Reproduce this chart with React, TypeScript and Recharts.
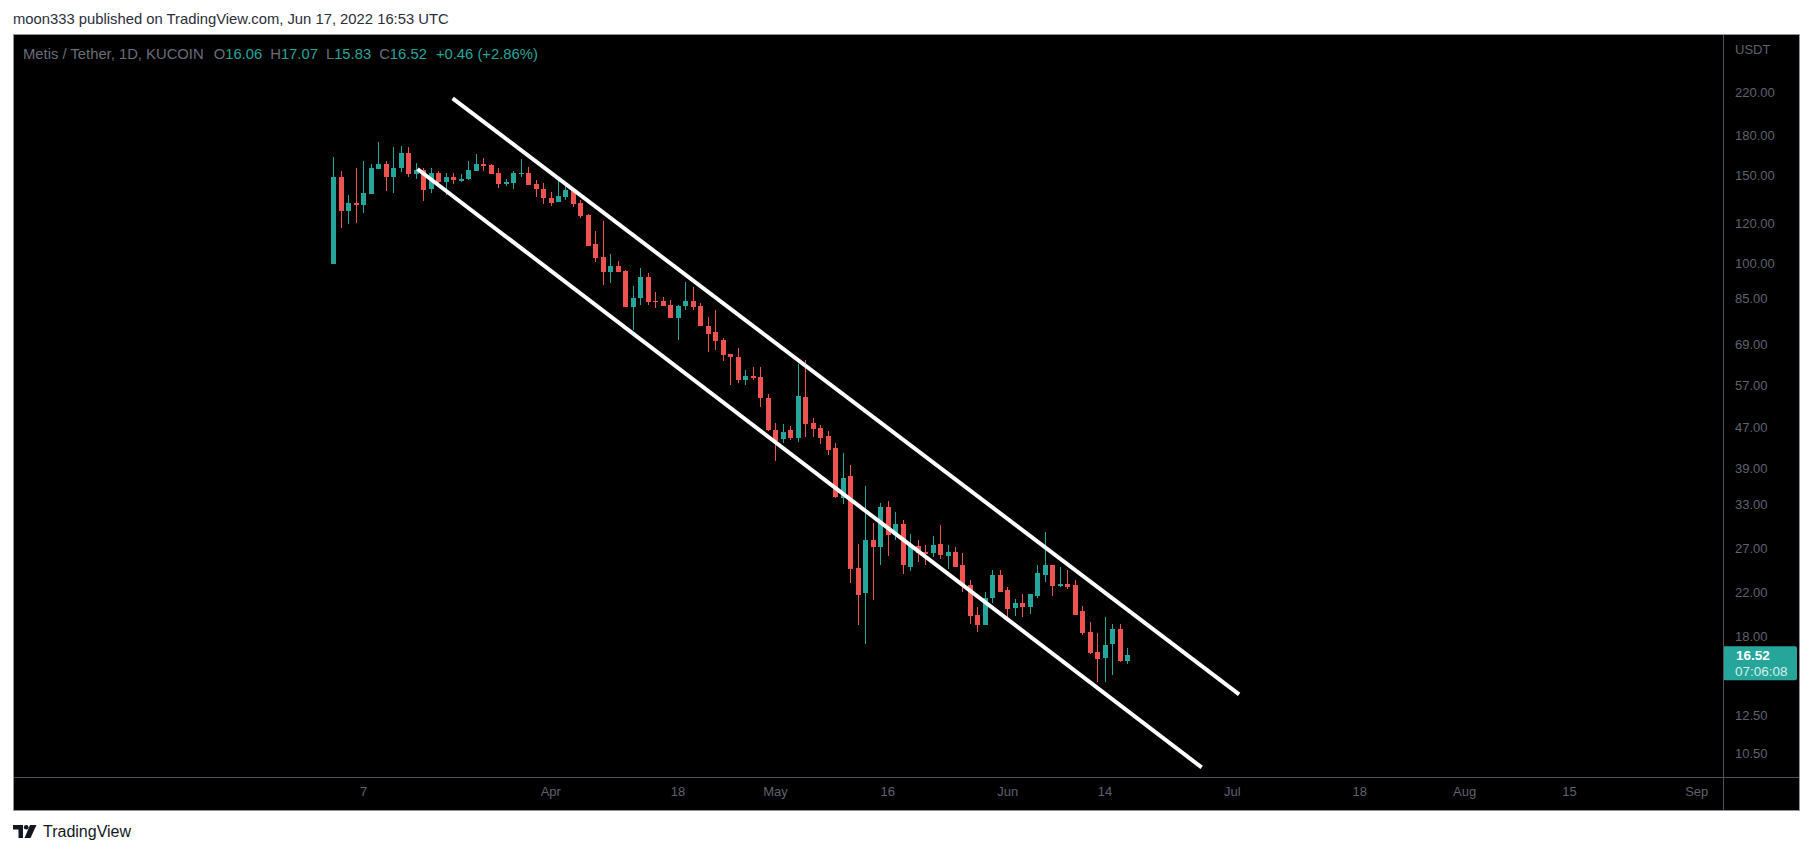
import {
  Bar,
  ComposedChart,
  ReferenceLine,
  XAxis,
  YAxis,
} from "recharts";

const UP = "#26a69a";
const DOWN = "#ef5350";
const AXIS_TEXT = "#5f626c";
const FONT = "'Liberation Sans', Arial, sans-serif";

/** Day offset (from Mar 7) of the first candle. */
const FIRST_DAY = -4;

const OPENS = [
  99.8, 149, 127.3, 132, 131, 137.6, 154.2, 158, 148.6, 155, 166.2, 150.7, 153.5, 140.6, 151.5, 145.4,
  149, 146, 147.2, 153, 158, 157.3, 151.5, 144.1, 144.7, 150.7, 151.5, 144.1, 140.6, 134.9, 132.7, 135.6,
  139.5, 132, 125, 109.4, 103.1, 96.1, 98.9, 96.5, 81.9, 85.3, 93.8, 84.2, 84.2, 82.7, 77.7, 82.3,
  84.2, 82.3, 75.2, 73.0, 70.4, 65.9, 65, 58.4, 59.7, 59.4, 54.0, 46.5, 44.6, 46.5, 44.8, 54.2,
  48.0, 46.9, 45.2, 42.8, 34.1, 37.6, 24.7, 22.0, 28.0, 27.2, 32.6, 28.7, 30.2, 24.8, 27.3, 26.5,
  26.4, 27.5, 26.1, 26.5, 25.0, 22.8, 19.9, 19.0, 21.5, 23.9, 22.3, 20.5, 21.0, 20.6, 21.7, 23.9,
  25.0, 22.7, 22.9, 22.8, 20.2, 18.4, 16.8, 16.3, 17.4, 18.6, 16.06,
];
const HIGHS = [
  163.5, 153, 137, 155.4, 160, 158, 174.8, 160, 170.8, 171.6, 170.8, 159, 155.4, 155.4, 153, 151.5,
  151.5, 150.7, 160, 165.4, 162.4, 158, 155.4, 147.2, 153, 161.7, 156, 146.6, 144.7, 138.9, 147.2, 144.7,
  140, 133.9, 125.3, 116.1, 121.6, 104.5, 101.2, 96.9, 90.1, 97.8, 95.7, 87.7, 85.7, 84.6, 82.7, 91.8,
  89.9, 83.4, 78.2, 80.7, 71.0, 65.9, 67.9, 61.3, 62.1, 62.1, 54.8, 48.0, 47.8, 47.4, 63.0, 64.3,
  49.1, 47.6, 46.3, 43.8, 41.8, 39.6, 27.6, 35.9, 30.3, 33.2, 33.6, 31.9, 30.8, 28.8, 28.1, 27.4,
  28.6, 30.0, 27.4, 27.2, 26.4, 23.3, 20.6, 22.1, 24.4, 24.4, 22.6, 21.4, 21.9, 21.9, 25.0, 29.1,
  25.0, 24.8, 24.4, 23.3, 20.7, 19.2, 18.3, 19.7, 19.1, 19.1, 17.07,
];
const LOWS = [
  99.8, 117.8, 120, 120.7, 126, 137.6, 154.2, 139.5, 138.2, 152.3, 148.6, 147.2, 133.3, 138.2, 143.5, 137,
  144, 145.4, 146.6, 153, 153, 150.7, 141.8, 142.9, 140.6, 149, 143.5, 135.6, 131.5, 130.2, 132.7, 133.9,
  129.6, 123.3, 108.2, 100.7, 90.5, 91.4, 96.1, 81.9, 73.7, 82.7, 82.7, 81.5, 82.3, 77.7, 70.4, 80.7,
  80.7, 74.9, 66.5, 67.1, 63.9, 57.2, 57.7, 57.2, 58.6, 51.8, 46.3, 40.3, 43.8, 44.4, 44.0, 45.0,
  45.0, 43.6, 41.4, 34.1, 33.1, 23.0, 19.0, 17.4, 21.3, 25.0, 26.1, 28.1, 24.0, 24.3, 25.3, 25.0,
  26.0, 25.7, 24.6, 24.8, 22.1, 19.1, 18.4, 19.0, 21.0, 22.1, 19.6, 19.8, 19.7, 20.0, 21.5, 23.1,
  21.7, 22.6, 22.4, 19.9, 18.1, 16.6, 14.6, 14.6, 15.1, 16.0, 15.83,
];
const CLOSES = [
  149.1, 127.3, 132, 131, 138.2, 155, 158, 148.6, 155.4, 166.2, 150.7, 153.5, 140, 151.5, 145.4, 148.6,
  146.6, 147.2, 153.5, 158, 156.8, 150.7, 144.1, 145.4, 151.5, 151.5, 143.5, 140.6, 134.9, 132, 136.1, 140,
  131.5, 124.4, 108.4, 102.6, 96.1, 98.9, 96.1, 81.9, 85.3, 93.8, 83.8, 83.8, 82.3, 77.7, 82.3, 84.2,
  81.9, 75.2, 72.4, 70.0, 65.6, 65.0, 58.4, 59.7, 59.2, 53.8, 46.5, 44.2, 46.1, 44.8, 54.4, 47.8,
  46.7, 44.8, 42.4, 34.2, 37.3, 24.5, 21.8, 28.0, 27.2, 32.6, 28.7, 30.2, 25.0, 27.3, 26.4, 26.3,
  27.4, 26.2, 26.5, 24.8, 22.7, 19.8, 19.0, 21.5, 23.9, 22.1, 20.4, 21.0, 20.6, 21.9, 24.1, 25.0,
  22.7, 22.9, 22.6, 19.9, 18.3, 16.7, 16.2, 17.3, 18.6, 16.06, 16.52,
];

const LAST_PRICE = 16.52;

// channel drawn on the chart: [day, price] end points
const UPPER_CHANNEL = [
  { x: 11.9, y: 213.7 },
  { x: 116.9, y: 13.8 },
];
const LOWER_CHANNEL = [
  { x: 7.2, y: 154.4 },
  { x: 111.9, y: 9.86 },
];

const PRICE_TICKS = [10.5, 12.5, 18, 22, 27, 33, 39, 47, 57, 69, 85, 100, 120, 150, 180, 220];
const DATE_TICKS = [0, 25, 42, 55, 70, 86, 99, 116, 133, 147, 161, 178];
const DATE_LABELS = ["7", "Apr", "18", "May", "16", "Jun", "14", "Jul", "18", "Aug", "15", "Sep"];

const candles = OPENS.map((open, i) => ({
  day: FIRST_DAY + i,
  open,
  high: HIGHS[i],
  low: LOWS[i],
  close: CLOSES[i],
  range: [LOWS[i], HIGHS[i]],
}));

function Candle(props: any) {
  const { x, y, width, height, payload } = props;
  if (x == null || y == null || !payload) return null;
  const top = Math.min(y, y + height);
  const bot = Math.max(y, y + height);
  const lh = Math.log(payload.high);
  const ll = Math.log(payload.low);
  const span = lh - ll || 1;
  // y axis is log, so interpolate open/close in log space between high and low
  const at = (p: number) => top + ((lh - Math.log(p)) / span) * (bot - top);
  const color = payload.close >= payload.open ? UP : DOWN;
  const cx = Math.round(x + width / 2);
  const yo = at(payload.open);
  const yc = at(payload.close);
  return (
    <g shapeRendering="crispEdges">
      <rect x={cx} y={top} width={1} height={Math.max(1, bot - top)} fill={color} />
      <rect
        x={cx - 2}
        y={Math.min(yo, yc)}
        width={5}
        height={Math.max(1, Math.abs(yc - yo))}
        fill={color}
      />
    </g>
  );
}

function PriceTag(props: any) {
  const vb = props.viewBox || {};
  const x = (vb.x ?? 0) + (vb.width ?? 0);
  const y = vb.y ?? 0;
  return (
    <g>
      <rect x={x} y={y - 9} width={74} height={34} rx={2} fill={UP} />
      <text x={x + 13} y={y} dominantBaseline="central" fill="#ffffff" fontSize={13.5} fontWeight="bold" fontFamily={FONT}>
        {LAST_PRICE.toFixed(2)}
      </text>
      <text x={x + 12} y={y + 16} dominantBaseline="central" fill="#d6efec" fontSize={13.5} fontFamily={FONT}>
        07:06:08
      </text>
    </g>
  );
}

export default function App() {
  const tick = { fill: AXIS_TEXT, fontSize: 13, fontFamily: FONT };
  return (
    <div style={{ position: "absolute", left: 0, top: 0, width: 1813, height: 856, background: "#fff", fontFamily: FONT }}>
      <div style={{ position: "absolute", left: 13, top: 11, fontSize: 14.8, color: "#2a2e39", whiteSpace: "nowrap" }}>
        moon333 published on TradingView.com, Jun 17, 2022 16:53 UTC
      </div>

      <div
        style={{
          position: "absolute",
          left: 13,
          top: 34,
          width: 1787,
          height: 777,
          boxSizing: "border-box",
          border: "1px solid #8f939c",
          background: "#000",
        }}
      >
        <ComposedChart
          width={1785}
          height={775}
          data={candles}
          margin={{ top: 0, right: 0, left: 0, bottom: 0 }}
        >
          <XAxis
            dataKey="day"
            type="number"
            domain={[-46.66, 181.5]}
            allowDataOverflow
            ticks={DATE_TICKS}
            interval={0}
            tickFormatter={(d: number) => DATE_LABELS[DATE_TICKS.indexOf(d)] ?? ""}
            tick={tick}
            tickLine={false}
            axisLine={false}
            tickSize={0}
            tickMargin={10}
            height={33}
          />
          <YAxis
            orientation="right"
            scale="log"
            domain={[9.436, 285.9]}
            allowDataOverflow
            ticks={PRICE_TICKS}
            interval={0}
            tickFormatter={(v: number) => v.toFixed(2)}
            tick={tick}
            tickLine={false}
            axisLine={false}
            tickSize={0}
            tickMargin={12}
            width={76}
          />
          <Bar
            dataKey="range"
            barSize={5}
            shape={<Candle />}
            isAnimationActive={false}
          />
          <ReferenceLine segment={UPPER_CHANNEL} stroke="#ffffff" strokeWidth={4} ifOverflow="visible" />
          <ReferenceLine segment={LOWER_CHANNEL} stroke="#ffffff" strokeWidth={4} ifOverflow="visible" />
          <ReferenceLine y={LAST_PRICE} stroke="none" label={<PriceTag />} />
        </ComposedChart>

        {/* pane separators */}
        <div style={{ position: "absolute", left: 1709, top: 0, width: 1, height: 775, background: "#505359" }} />
        <div style={{ position: "absolute", left: 0, top: 742, width: 1785, height: 1, background: "#505359" }} />

        <div style={{ position: "absolute", left: 9, top: 11, fontSize: 14.8, whiteSpace: "nowrap", color: "#6a6d78" }}>
          <span>Metis / Tether, 1D, KUCOIN</span>
          <span style={{ marginLeft: 10 }}>O</span><span style={{ color: UP }}>16.06</span>
          <span style={{ marginLeft: 8 }}>H</span><span style={{ color: UP }}>17.07</span>
          <span style={{ marginLeft: 8 }}>L</span><span style={{ color: UP }}>15.83</span>
          <span style={{ marginLeft: 8 }}>C</span><span style={{ color: UP }}>16.52</span>
          <span style={{ marginLeft: 9, color: UP }}>+0.46 (+2.86%)</span>
        </div>

        <div style={{ position: "absolute", left: 1721, top: 7, fontSize: 13, color: AXIS_TEXT }}>USDT</div>
      </div>

      <div style={{ position: "absolute", left: 13, top: 823, display: "flex", alignItems: "center", gap: 6 }}>
        <svg width={24} height={14} viewBox="0 0 24 14">
          <path d="M0 0 H10 V13 H5.5 V4.5 H0 Z" fill="#131722" />
          <circle cx={13.2} cy={2.3} r={2.3} fill="#131722" />
          <path d="M17 0 H23.5 L17.5 13 H11.5 Z" fill="#131722" />
        </svg>
        <span style={{ fontSize: 16, color: "#131722" }}>TradingView</span>
      </div>
    </div>
  );
}
